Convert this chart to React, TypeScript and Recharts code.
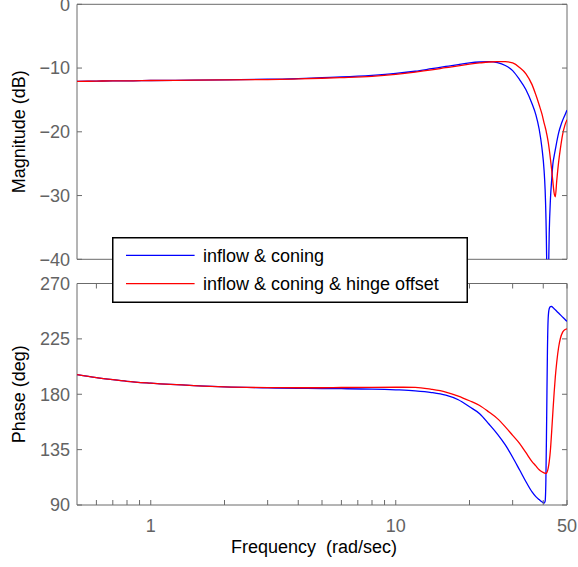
import { LineChart, Line, XAxis, YAxis, ReferenceArea, Legend } from 'recharts';

// frequency grid (rad/sec), denser near the notch
const freq = [
  0.5, 0.6, 0.7, 0.8, 1, 1.5, 2, 3, 4, 5, 6, 8, 10, 12, 14, 16, 18, 20, 22, 24, 26, 28, 30, 32, 34, 36,
  37.3, 38.5, 39.5, 40.3, 40.7, 41, 41.3, 41.6, 41.9, 42.3, 42.8, 43.3, 43.8, 44.3, 44.8, 45.4, 46.2,
  47, 48, 49, 50,
];

// magnitude (dB)
const magConing = [
  -12.1, -12.05, -12.0, -12.0, -11.95, -11.9, -11.85, -11.75, -11.65, -11.5, -11.4, -11.15, -10.85,
  -10.5, -10.1, -9.75, -9.45, -9.2, -9.05, -9.0, -9.15, -9.6, -10.4, -11.8, -13.4, -15.6,
  -17.3, -19.6, -22.5, -26.0, -29.0, -33.0, -40.0, -55.0, -45.0, -36.0, -30.5, -27.5, -25.0, -23.8,
  -22.8, -21.6, -20.2, -19.2, -18.2, -17.4, -16.6,
];
const magHinge = [
  -12.1, -12.05, -12.0, -12.0, -11.95, -11.9, -11.85, -11.8, -11.7, -11.6, -11.5, -11.3, -11.0,
  -10.65, -10.3, -9.95, -9.65, -9.4, -9.2, -9.05, -9.0, -9.0, -9.2, -9.9, -10.9, -12.6,
  -14.2, -15.8, -17.2, -18.6, -19.2, -19.7, -20.3, -20.9, -21.6, -22.7, -24.3, -26.0, -27.9, -29.6,
  -30.2, -27.7, -24.8, -22.6, -20.4, -19.0, -18.1,
];

// phase (deg)
const phaseConing = [
  196, 193.5, 191.8, 190.5, 189, 187, 186, 185.2, 184.8, 184.6, 184.5, 184.2, 183.6,
  182.8, 181.4, 179.2, 175.5, 169.8, 164.2, 155.8, 147.6, 138.8, 128.8, 118.6, 108.9, 100.6,
  96.8, 94.4, 92.6, 91.6, 93, 110, 160, 215, 242, 249.5, 251.2, 251.4, 250.5, 249.5,
  248.6, 247.5, 246, 244.5, 242.7, 241, 239.2,
];
const phaseHinge = [
  196, 193.5, 191.8, 190.5, 189, 187, 186, 185.4, 185.3, 185.3, 185.5, 185.6, 185.7,
  185.6, 184.0, 181.8, 178.5, 174.7, 170.9, 165.6, 160.2, 153.5, 146.6, 140.1, 132.5, 125.3,
  121.8, 118.6, 117, 116.1, 115.8, 115.7, 116.2, 117.5, 120, 125, 135, 150, 166, 181,
  194, 206, 218, 225.5, 230.5, 232.5, 233.2,
];

const seriesNames = ['inflow & coning', 'inflow & coning & hinge offset'];
const seriesColors = ['#0000ff', '#ff0000'];

const freqTicks = [0.6, 0.7, 0.8, 0.9, 1, 2, 3, 4, 5, 6, 7, 8, 9, 10, 20, 30, 40, 50];
const freqLabels = [1, 10, 50];
const magTicks = [-40, -30, -20, -10, 0];
const phaseTicks = [90, 135, 180, 225, 270];

const magData = freq.map((f, i) => ({ f, a: magConing[i], b: magHinge[i] }));
const phaseData = freq.map((f, i) => ({ f, a: phaseConing[i], b: phaseHinge[i] }));

const FONT = '"Liberation Sans", Arial, Helvetica, sans-serif';
const AXIS = '#6b6b6b';
const TICK_TEXT = '#636363';
const TICK_LEN = 5;
const PLOT_W = 490;

function XTick(props: any) {
  const { x, y, payload, plotH, showLabel } = props;
  const v = payload.value;
  return (
    <g>
      <line x1={x} x2={x} y1={y} y2={y - TICK_LEN} stroke={AXIS} />
      <line x1={x} x2={x} y1={y - plotH} y2={y - plotH + TICK_LEN} stroke={AXIS} />
      {showLabel && freqLabels.includes(v) && (
        <text x={x} y={y + 26.5} textAnchor="middle" fontSize={18} fontFamily={FONT} fill={TICK_TEXT}>
          {v}
        </text>
      )}
    </g>
  );
}

function YTick(props: any) {
  const { x, y, payload } = props;
  const v = payload.value;
  const label = v < 0 ? `\u2212${Math.abs(v)}` : `${v}`;
  return (
    <g>
      <line x1={x} x2={x + TICK_LEN} y1={y} y2={y} stroke={AXIS} />
      <line x1={x + PLOT_W} x2={x + PLOT_W - TICK_LEN} y1={y} y2={y} stroke={AXIS} />
      <text x={x - 7} y={y + 6.4} textAnchor="end" fontSize={18} fontFamily={FONT} fill={TICK_TEXT}>
        {label}
      </text>
    </g>
  );
}

function LegendBox({ payload }: any) {
  const items = payload || [];
  return (
    <svg width={356} height={66} style={{ display: 'block' }}>
      <rect x={0.75} y={0.75} width={354.5} height={64.5} fill="#fff" stroke="#000" strokeWidth={1.5} />
      {items.map((p: any, i: number) => (
        <g key={p.value}>
          <line x1={14} x2={82.6} y1={18.3 + i * 28.3} y2={18.3 + i * 28.3} stroke={p.color} strokeWidth={1.2} />
          <text x={91} y={24.8 + i * 28.3} fontSize={18} fontFamily={FONT} fill="#000">
            {p.value}
          </text>
        </g>
      ))}
    </svg>
  );
}

const titleStyle = { textAnchor: 'middle' as const };

export default function App() {
  return (
    <div style={{ position: 'absolute', left: 0, top: 0, width: 578, height: 567, background: '#fff', fontFamily: FONT }}>
      <div style={{ position: 'absolute', left: 0, top: 0 }}>
        <LineChart width={578} height={270} data={magData} margin={{ top: 4.3, right: 11, bottom: 10.7, left: 17 }}>
          <XAxis
            dataKey="f"
            type="number"
            scale="log"
            domain={[0.5, 50]}
            allowDataOverflow
            ticks={freqTicks}
            interval={0}
            height={0}
            tickSize={0}
            tickMargin={0}
            axisLine={false}
            tickLine={false}
            tick={<XTick plotH={255} showLabel={false} />}
          />
          <YAxis
            type="number"
            domain={[-40, 0]}
            allowDataOverflow
            ticks={magTicks}
            interval={0}
            width={60}
            tickSize={0}
            tickMargin={0}
            axisLine={false}
            tickLine={false}
            tick={<YTick />}
            label={{ value: 'Magnitude (dB)', angle: -90, position: 'insideLeft', offset: 1.5, fontSize: 18, fill: '#000', fontFamily: FONT, style: titleStyle }}
          />
          <ReferenceArea x1={0.5} x2={50} y1={-40} y2={0} fill="none" stroke={AXIS} strokeWidth={1} ifOverflow="visible" />
          <Line type="monotone" dataKey="a" name={seriesNames[0]} stroke={seriesColors[0]} strokeWidth={1.3} dot={false} isAnimationActive={false} />
          <Line type="monotone" dataKey="b" name={seriesNames[1]} stroke={seriesColors[1]} strokeWidth={1.3} dot={false} isAnimationActive={false} />
        </LineChart>
      </div>
      <div style={{ position: 'absolute', left: 0, top: 270 }}>
        <LineChart width={578} height={297} data={phaseData} margin={{ top: 13.5, right: 11, bottom: 0, left: 17 }}>
          <XAxis
            dataKey="f"
            type="number"
            scale="log"
            domain={[0.5, 50]}
            allowDataOverflow
            ticks={freqTicks}
            interval={0}
            height={62}
            tickSize={0}
            tickMargin={0}
            axisLine={false}
            tickLine={false}
            tick={<XTick plotH={221.5} showLabel />}
            label={{ value: 'Frequency\u00a0 (rad/sec)', position: 'insideBottom', offset: 14, dx: -8, fontSize: 18, fill: '#000', fontFamily: FONT }}
          />
          <YAxis
            type="number"
            domain={[90, 270]}
            allowDataOverflow
            ticks={phaseTicks}
            interval={0}
            width={60}
            tickSize={0}
            tickMargin={0}
            axisLine={false}
            tickLine={false}
            tick={<YTick />}
            label={{ value: 'Phase (deg)', angle: -90, position: 'insideLeft', offset: 1.5, fontSize: 18, fill: '#000', fontFamily: FONT, style: titleStyle }}
          />
          <ReferenceArea x1={0.5} x2={50} y1={90} y2={270} fill="none" stroke={AXIS} strokeWidth={1} ifOverflow="visible" />
          <Line type="monotone" dataKey="a" name={seriesNames[0]} stroke={seriesColors[0]} strokeWidth={1.3} dot={false} isAnimationActive={false} />
          <Line type="monotone" dataKey="b" name={seriesNames[1]} stroke={seriesColors[1]} strokeWidth={1.3} dot={false} isAnimationActive={false} />
          <Legend
            layout="vertical"
            align="center"
            verticalAlign="middle"
            wrapperStyle={{ left: 111.7, top: -33.3, width: 356, height: 66 }}
            content={<LegendBox />}
          />
        </LineChart>
      </div>
    </div>
  );
}
